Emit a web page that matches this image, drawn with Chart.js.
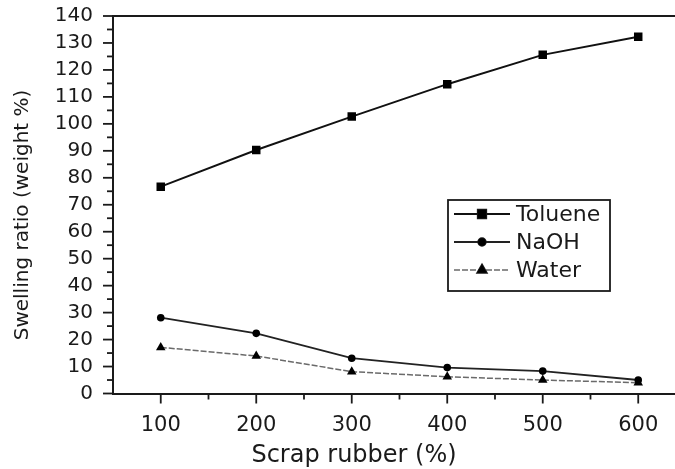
<!DOCTYPE html>
<html>
<head>
<meta charset="utf-8">
<script src="https://cdn.jsdelivr.net/npm/chart.js@4.4.1/dist/chart.umd.min.js"></script>
<style>
	html, body {
		margin: 0;
		padding: 0;
		background: #fff;
		overflow: hidden;
	}
	canvas {
		display: block;
	}
</style>
</head>
<body>
<canvas id="swelling-chart" width="675" height="469"></canvas>
<script>
const scrapRubber = [100, 200, 300, 400, 500, 600];
const toluene = [76.7, 90.3, 102.7, 114.7, 125.6, 132.3];
const naoh = [28.1, 22.3, 13.1, 9.6, 8.3, 5.0];
const water = [17.1, 13.9, 8.1, 6.2, 5.0, 4.0];
const yTicks = [0, 10, 20, 30, 40, 50, 60, 70, 80, 90, 100, 110, 120, 130, 140];

const xTitle = 'Scrap rubber (%)';
const yTitle = 'Swelling ratio (weight %)';

const fontFamily = '"DejaVu Sans", sans-serif';
const ink = '#1a1a1a';

function toPoints(values) {
	return scrapRubber.map((x, i) => ({ x: x, y: values[i] }));
}

// major + minor tick marks pointing outwards, and the top frame line
const tickMarks = {
	id: 'tickMarks',
	afterDraw(chart) {
		const { ctx, chartArea, scales } = chart;
		ctx.save();
		ctx.strokeStyle = ink;
		ctx.lineWidth = 1.8;

		ctx.beginPath();
		ctx.moveTo(chartArea.left, chartArea.top);
		ctx.lineTo(chartArea.right, chartArea.top);
		ctx.stroke();

		yTicks.forEach((v, i) => {
			const y = scales.y.getPixelForValue(v);
			ctx.beginPath();
			ctx.moveTo(chartArea.left - 10, y);
			ctx.lineTo(chartArea.left, y);
			ctx.stroke();
			if (i < yTicks.length - 1) {
				const ym = scales.y.getPixelForValue(v + 5);
				ctx.beginPath();
				ctx.moveTo(chartArea.left - 6, ym);
				ctx.lineTo(chartArea.left, ym);
				ctx.stroke();
			}
		});

		scrapRubber.forEach((v, i) => {
			const x = scales.x.getPixelForValue(v);
			ctx.beginPath();
			ctx.moveTo(x, chartArea.bottom);
			ctx.lineTo(x, chartArea.bottom + 10);
			ctx.stroke();
			if (i < scrapRubber.length - 1) {
				const xm = scales.x.getPixelForValue(v + 50);
				ctx.beginPath();
				ctx.moveTo(xm, chartArea.bottom);
				ctx.lineTo(xm, chartArea.bottom + 6);
				ctx.stroke();
			}
		});
		ctx.restore();
	},
};

const axisTitles = {
	id: 'axisTitles',
	afterDraw(chart) {
		const { ctx } = chart;
		ctx.save();
		ctx.fillStyle = ink;
		ctx.textAlign = 'center';
		ctx.textBaseline = 'middle';

		ctx.font = '24px ' + fontFamily;
		ctx.fillText(xTitle, 354, 456);

		ctx.translate(23, 215);
		ctx.rotate(-Math.PI / 2);
		ctx.font = '20px ' + fontFamily;
		ctx.fillText(yTitle, 0, 0);
		ctx.restore();
	},
};

// boxed legend with line + marker samples
const boxLegend = {
	id: 'boxLegend',
	afterDraw(chart) {
		const { ctx } = chart;
		const box = { left: 448, top: 200, right: 610, bottom: 291 };
		const rows = [214, 242, 270];

		ctx.save();
		ctx.strokeStyle = ink;
		ctx.lineWidth = 1.8;
		ctx.strokeRect(box.left, box.top, box.right - box.left, box.bottom - box.top);

		chart.data.datasets.forEach((ds, i) => {
			const y = rows[i];
			ctx.save();
			ctx.strokeStyle = ds.borderColor;
			ctx.lineWidth = ds.borderWidth;
			ctx.setLineDash(ds.borderDash || []);
			ctx.beginPath();
			ctx.moveTo(454, y);
			ctx.lineTo(510, y);
			ctx.stroke();
			ctx.restore();

			Chart.helpers.drawPoint(ctx, {
				pointStyle: ds.pointStyle,
				radius: ds.pointRadius,
				borderWidth: 1,
			}, 482, y);
			ctx.fillStyle = '#000';
			ctx.fill();

			ctx.fillStyle = ink;
			ctx.font = '22px ' + fontFamily;
			ctx.textAlign = 'left';
			ctx.textBaseline = 'middle';
			ctx.fillText(ds.label, 516, y + 1);
		});
		ctx.restore();
	},
};

function swellingChart() {
	const ctx = document.getElementById('swelling-chart');

	if (!ctx) {
		return;
	}

	new Chart(ctx, {
		type: 'line',
		data: {
			datasets: [
				{
					label: 'Toluene',
					data: toPoints(toluene),
					borderColor: '#111',
					backgroundColor: '#000',
					borderWidth: 1.9,
					pointStyle: 'rect',
					pointRadius: 6,
					pointBorderWidth: 0,
				},
				{
					label: 'NaOH',
					data: toPoints(naoh),
					borderColor: '#222',
					backgroundColor: '#000',
					borderWidth: 1.8,
					pointStyle: 'circle',
					pointRadius: 3.8,
					pointBorderWidth: 0,
				},
				{
					label: 'Water',
					data: toPoints(water),
					borderColor: '#6a6a6a',
					backgroundColor: '#000',
					borderWidth: 1.5,
					borderDash: [6, 2],
					pointStyle: 'triangle',
					pointRadius: 5.5,
					pointBorderWidth: 0,
				},
			],
		},
		options: {
			responsive: false,
			animation: false,
			layout: {
				autoPadding: false,
				padding: { top: 16, right: 0, left: 0, bottom: 0 },
			},
			plugins: {
				legend: {
					display: false,
				},
				tooltip: {
					enabled: false,
				},
			},
			scales: {
				x: {
					type: 'linear',
					min: 50,
					max: 638.5,
					afterBuildTicks: (scale) => {
						scale.ticks = scrapRubber.map((v) => ({ value: v }));
					},
					afterFit: (scale) => {
						scale.height = 75.5;
						scale.paddingLeft = 0;
						scale.paddingRight = 0;
					},
					grid: {
						display: false,
						drawTicks: false,
					},
					border: {
						display: true,
						color: ink,
						width: 2,
					},
					ticks: {
						padding: 19,
						autoSkip: false,
						color: ink,
						maxRotation: 0,
						font: { family: fontFamily, size: 21 },
					},
				},
				y: {
					min: 0,
					max: 140,
					afterBuildTicks: (scale) => {
						scale.ticks = yTicks.map((v) => ({ value: v }));
					},
					afterFit: (scale) => {
						scale.width = 113;
						scale.paddingTop = 0;
						scale.paddingBottom = 0;
					},
					grid: {
						display: false,
						drawTicks: false,
					},
					border: {
						display: true,
						color: ink,
						width: 2,
					},
					ticks: {
						padding: 20,
						autoSkip: false,
						color: ink,
						font: { family: fontFamily, size: 20 },
					},
				},
			},
		},
		plugins: [tickMarks, axisTitles, boxLegend],
	});
}

swellingChart();
</script>
</body>
</html>
